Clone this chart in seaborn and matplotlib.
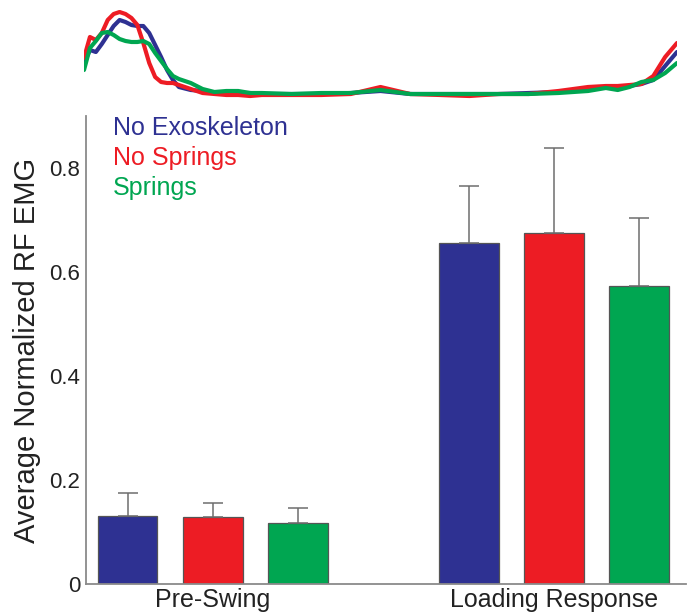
import pandas as pd
import numpy as np
import matplotlib
matplotlib.use('Agg')
import matplotlib.pyplot as plt
import seaborn as sns

# bar data
phases = ['Pre-Swing', 'Loading Response']
conditions = ['No Exoskeleton', 'No Springs', 'Springs']
colors = ['#2E3192', '#ED1C24', '#00A651']
mean_no_exo = [0.131, 0.656]
mean_no_springs = [0.129, 0.675]
mean_springs = [0.117, 0.573]
err_no_exo = [0.044, 0.109]
err_no_springs = [0.027, 0.163]
err_springs = [0.029, 0.131]

# EMG traces over the gait cycle (%)
gait_pct = [0, 1, 2, 3, 4, 5, 6, 7, 8, 9, 10, 11, 12, 13, 14, 15, 16, 18, 20, 22,
            24, 26, 28, 30, 35, 40, 45, 50, 55, 60, 65, 70, 75, 80, 85, 88, 90, 92,
            94, 96, 98, 100]
emg_no_exo = [0.37, 0.50, 0.48, 0.56, 0.65, 0.74, 0.80, 0.78, 0.75, 0.74, 0.74, 0.67,
              0.55, 0.43, 0.30, 0.20, 0.13, 0.10, 0.09, 0.07, 0.07, 0.07, 0.07, 0.06,
              0.06, 0.06, 0.07, 0.09, 0.06, 0.06, 0.06, 0.06, 0.07, 0.08, 0.12, 0.13,
              0.11, 0.14, 0.16, 0.20, 0.34, 0.48]
emg_no_springs = [0.42, 0.63, 0.60, 0.67, 0.80, 0.86, 0.88, 0.86, 0.82, 0.75, 0.57,
                  0.37, 0.23, 0.18, 0.17, 0.17, 0.15, 0.11, 0.07, 0.06, 0.05, 0.05,
                  0.04, 0.05, 0.05, 0.05, 0.06, 0.13, 0.06, 0.05, 0.04, 0.06, 0.06,
                  0.09, 0.13, 0.14, 0.14, 0.15, 0.16, 0.24, 0.43, 0.57]
emg_springs = [0.30, 0.52, 0.59, 0.67, 0.68, 0.65, 0.61, 0.59, 0.58, 0.58, 0.59, 0.56,
               0.47, 0.39, 0.31, 0.24, 0.21, 0.17, 0.11, 0.08, 0.09, 0.09, 0.07, 0.07,
               0.06, 0.07, 0.07, 0.10, 0.06, 0.06, 0.06, 0.06, 0.06, 0.07, 0.09, 0.12,
               0.10, 0.13, 0.18, 0.20, 0.27, 0.37]

sns.set_style('white')
plt.rcParams['font.family'] = ['Liberation Sans', 'DejaVu Sans']

fig = plt.figure(figsize=(6.92, 6.16), dpi=100)

# main bar chart
ax = fig.add_axes([86 / 692, 1 - 584 / 616, 600 / 692, 468 / 616])
df = pd.DataFrame({
    'Phase': phases * 3,
    'Condition': [c for c in conditions for _ in phases],
    'EMG': mean_no_exo + mean_no_springs + mean_springs,
})
sns.barplot(data=df, x='Phase', y='EMG', hue='Condition', order=phases,
            hue_order=conditions, palette=colors, saturation=1, width=0.75, gap=0.3,
            edgecolor='#555555', linewidth=0.9, errorbar=None, legend=False, ax=ax)

errs = [err_no_exo, err_no_springs, err_springs]
for cont, err in zip(ax.containers, errs):
    for bar, e in zip(cont, err):
        xc = bar.get_x() + bar.get_width() / 2
        ax.errorbar(xc, bar.get_height(), yerr=[[0], [e]], color='#6d6d6d',
                    elinewidth=1.1, capsize=7, capthick=1.1, zorder=1)

ax.set_xlim(-0.372, 1.387)
ax.set_ylim(0, 0.9)
ax.set_yticks([0, 0.2, 0.4, 0.6, 0.8])
ax.set_yticklabels(['0', '0.2', '0.4', '0.6', '0.8'])
ax.tick_params(axis='y', length=0, pad=4, labelsize=16, colors='#222222')
ax.tick_params(axis='x', length=0, pad=3, labelsize=18, colors='#222222')
ax.set_xlabel('')
ax.set_ylabel('Average Normalized RF EMG', fontsize=21, color='#222222', labelpad=6)
sns.despine(ax=ax)
for s in ['left', 'bottom']:
    ax.spines[s].set_color('#8a8a8a')
    ax.spines[s].set_linewidth(1.3)

for i, (name, col) in enumerate(zip(conditions, colors)):
    ax.text(0.045, 0.975 - i * 0.064, name, color=col, fontsize=18,
            transform=ax.transAxes, va='center', ha='left')

# EMG trace inset
ax2 = fig.add_axes([84 / 692, 1 - 100 / 616, 593 / 692, 100 / 616])
trace_df = pd.DataFrame({
    'pct': gait_pct * 3,
    'emg': emg_no_exo + emg_no_springs + emg_springs,
    'Condition': [c for c in conditions for _ in gait_pct],
})
sns.lineplot(data=trace_df, x='pct', y='emg', hue='Condition', hue_order=conditions,
             palette=colors, linewidth=3, legend=False, ax=ax2)
ax2.set_xlim(0, 100)
ax2.set_ylim(0, 1)
ax2.axis('off')

fig.savefig('out.png', dpi=100)
